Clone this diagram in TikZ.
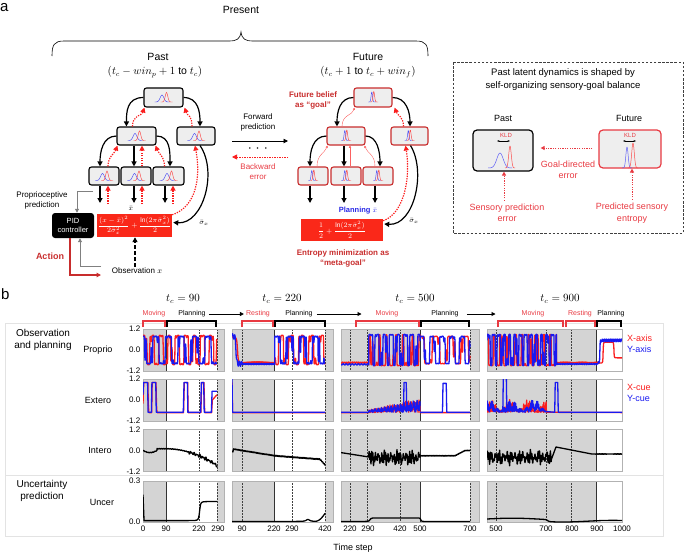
\documentclass[tikz,border=0pt]{standalone}
\usepackage{fontspec}
\setmainfont{Liberation Sans}
\usetikzlibrary{arrows.meta,calc}
\definecolor{rr}{RGB}{250,30,30}
\definecolor{dred}{RGB}{200,45,45}
\definecolor{lred}{RGB}{232,58,66}
\definecolor{bb}{RGB}{25,25,240}
\definecolor{pbl}{RGB}{40,40,230}
\definecolor{pg}{RGB}{212,212,212}
\definecolor{boxg}{RGB}{238,238,238}
\definecolor{lossred}{RGB}{250,40,25}

\newcommand\gpast[1]{\begin{scope}[shift={(#1.center)}]
 \draw[bb!80,line width=0.45pt] plot[domain=-9:6,samples=25,smooth] (\x,{4.5-7*exp(max(-9,0-((\x+1.5)/2.6)*((\x+1.5)/2.6)))});
 \draw[rr!85,line width=0.45pt] plot[domain=-3:9,samples=25,smooth] (\x,{4.5-9.5*exp(max(-9,0-((\x-3)/1.8)*((\x-3)/1.8)))});
\end{scope}}
\newcommand\gfut[1]{\begin{scope}[shift={(#1.center)}]
 \draw[bb!80,line width=0.45pt] plot[domain=-5:3,samples=25,smooth] (\x,{4.5-10*exp(max(-9,0-((\x+1.2)/1.0)*((\x+1.2)/1.0)))});
 \draw[rr!85,line width=0.45pt] plot[domain=-3:5,samples=25,smooth] (\x,{4.5-10.5*exp(max(-9,0-((\x-0.8)/1.1)*((\x-0.8)/1.1)))});
\end{scope}}

% panel backgrounds (in t,v coordinates)
\newcommand\bgA[2]{\fill[pg] (0,#1) rectangle (90,#2); \fill[pg] (290,#1) rectangle (317.6,#2);
 \draw[dotl] (220,#1) -- (220,#2) (290,#1) -- (290,#2); \draw[soll] (90,#1) -- (90,#2);
 \draw[frm] (0,#1) rectangle (317.6,#2); \clip (0,#1) rectangle (317.6,#2);}
\newcommand\bgB[2]{\fill[pg] (50.1,#1) rectangle (220,#2); \fill[pg] (420,#1) rectangle (451.7,#2);
 \draw[dotl] (90,#1) -- (90,#2) (290,#1) -- (290,#2) (420,#1) -- (420,#2); \draw[soll] (220,#1) -- (220,#2);
 \draw[frm] (50.1,#1) rectangle (451.7,#2); \clip (50.1,#1) rectangle (451.7,#2);}
\newcommand\bgC[2]{\fill[pg] (184,#1) rectangle (500,#2); \fill[pg] (700,#1) rectangle (736,#2);
 \draw[dotl] (220,#1) -- (220,#2) (290,#1) -- (290,#2) (420,#1) -- (420,#2) (700,#1) -- (700,#2); \draw[soll] (500,#1) -- (500,#2);
 \draw[frm] (184,#1) rectangle (736,#2); \clip (184,#1) rectangle (736,#2);}
\newcommand\bgD[2]{\fill[pg] (464.3,#1) rectangle (900,#2);
 \draw[dotl] (500,#1) -- (500,#2) (700,#1) -- (700,#2) (800,#1) -- (800,#2); \draw[soll] (900,#1) -- (900,#2);
 \draw[frm] (464.3,#1) rectangle (1000,#2); \clip (464.3,#1) rectangle (1000,#2);}

\begin{document}
\begin{tikzpicture}[x=1pt,y=-1pt,
  font=\fontsize{8}{9.5}\selectfont,
  declare function={sgg(\xa)=\xa/sqrt(\xa*\xa+0.15); sg(\xb)=sgg(max(-20,min(20,\xb)));
                    sgc(\xa)=\xa/sqrt(\xa*\xa+1); sig(\xb)=0.5+0.5*sgc(max(-20,min(20,\xb)));},
  pbox/.style={draw=black, line width=1.1pt, rounded corners=2.5pt, fill=boxg, inner sep=0pt},
  fbox/.style={draw=dred, line width=1.1pt, rounded corners=2.5pt, fill=boxg, inner sep=0pt},
  blk/.style={line width=1.2pt, -{Triangle[length=5pt,width=5pt]}},
  rdot/.style={line width=1.2pt, rr, dash pattern=on 1.3pt off 1.2pt, -{Triangle[length=5pt,width=5pt]}},
  rdots/.style={line width=0.9pt, lred, dash pattern=on 1.2pt off 1.2pt, -{Triangle[length=4pt,width=4pt]}},
  rthin/.style={line width=0.4pt, rr!70, -{Triangle[length=2.2pt,width=2.2pt]}},
  garr/.style={line width=1pt, gray, -{Triangle[length=4pt,width=4pt]}},
  lossbox/.style={fill=lossred, inner sep=0pt, text=white, font=\fontsize{6.6}{7.5}\selectfont},
  lbl/.style={inner sep=0pt, align=center},
  harr/.style={line width=0.9pt, -{Triangle[length=4pt,width=4pt]}},
  dotl/.style={densely dotted, black!75, line width=0.5pt},
  soll/.style={black!80, line width=0.7pt},
  frm/.style={gray!60, line width=0.6pt},
  dr/.style={rr, line width=1.3pt, line join=round},
  db/.style={bb, line width=1.3pt, line join=round},
  dk/.style={black, line width=1.3pt, line join=round},
  hd/.style={inner sep=0pt, font=\fontsize{7}{8}\selectfont},
  tk/.style={inner sep=0pt, font=\fontsize{8}{9}\selectfont},
]
\useasboundingbox (0,0) rectangle (685,554);

%================ part a ================
\node[font=\fontsize{15}{15}\selectfont, anchor=base west, inner sep=0pt] (lbla) at (0,12) {a};
\node[lbl, font=\fontsize{10.5}{12}\selectfont] (present) at (241,10) {Present};
\draw[line width=0.6pt] (52,56) .. controls (52,45) and (54,41) .. (64,41) -- (229,41)
  .. controls (237,41) and (240,39) .. (241,32) .. controls (242,39) and (245,41) .. (253,41)
  -- (416,41) .. controls (426,41) and (428,45) .. (428,56);
\node[lbl, font=\fontsize{10.5}{12}\selectfont] (pastH) at (158,57) {Past};
\node[lbl, font=\fontsize{10.5}{12}\selectfont] (pastR) at (155,72) {$(t_c - win_p + 1\ \mathrm{to}\ t_c)$};
\node[lbl, font=\fontsize{10.5}{12}\selectfont] (futH) at (368,57) {Future};
\node[lbl, font=\fontsize{10.5}{12}\selectfont] (futR) at (368,72) {$(t_c + 1\ \mathrm{to}\ t_c + win_f)$};

% past tree
\node[pbox, minimum width=39, minimum height=19] (PT) at (163.5,97.5) {};
\node[pbox, minimum width=39, minimum height=18] (PML) at (136.5,136) {};
\node[pbox, minimum width=38, minimum height=18] (PMR) at (196,136) {};
\node[pbox, minimum width=30, minimum height=18] (PB1) at (104,176) {};
\node[pbox, minimum width=30, minimum height=18] (PB2) at (136,176) {};
\node[pbox, minimum width=31, minimum height=18] (PB3) at (168.5,176) {};
\foreach \n in {PT,PML,PMR,PB1,PB2,PB3} {\gpast{\n}}

\node[lossbox, minimum width=75, minimum height=23] (PL) at (134.5,225.5)
  {$\displaystyle\frac{(x-\bar{x})^2}{2\bar{\sigma}_x^2}+\frac{\ln(2\pi\bar{\sigma}_x^2)}{2}$};
\node[lbl, font=\fontsize{7}{8}\selectfont] (xbarP) at (131,208.5) {$\bar{x}$};
\node[lbl, font=\fontsize{7}{8}\selectfont] (sigP) at (204,223) {$\bar{\sigma}_x$};

\draw[blk] (PT.west) .. controls +(-17,0) and +(0,-14) .. ($(PML.north west)+(10,0)$);
\draw[blk] (PT.east) .. controls +(15,0) and +(0,-14) .. ($(PMR.north)+(4,0)$);
\draw[blk] (PML.west) .. controls +(-14,0) and +(0,-14) .. ($(PB1.north)+(-4,0)$);
\draw[blk] ($(PML.south)+(-2.5,0)$) -- ($(PB2.north)+(-2,0)$);
\draw[blk] (PML.east) .. controls +(14,0) and +(0,-14) .. ($(PB3.north)+(1.5,0)$);
\draw[rdot] ($(PML.north)+(-4,0)$) .. controls +(0,-12) and +(-3,9) .. ($(PT.south west)+(1,0)$);
\draw[rdot] ($(PMR.north)+(-4,0)$) .. controls +(0,-12) and +(3,9) .. ($(PT.south east)+(1,0)$);
\draw[rdot] ($(PB1.north)+(4,0)$) .. controls +(0,-10) and +(-3,8) .. ($(PML.south west)+(1,0)$);
\draw[rdot] ($(PB2.north)+(6,0)$) -- ($(PML.south)+(5.5,0)$);
\draw[rdot] ($(PB3.north)+(-4,0)$) .. controls +(0,-10) and +(3,8) .. ($(PML.south east)+(-1,0)$);
\coordinate (pe1) at (100,203); \coordinate (pe2) at (134,203); \coordinate (pe3) at (165,203);
\coordinate (pr1) at (108,204); \coordinate (pr2) at (142,204); \coordinate (pr3) at (173,204);
\draw[blk] ($(PB1.south)+(-4,0)$) -- (pe1);
\draw[blk] ($(PB2.south)+(-2,0)$) -- (pe2);
\draw[blk] ($(PB3.south)+(-3.5,0)$) -- (pe3);
\draw[rdot] (pr1) -- ($(PB1.south)+(4,0)$);
\draw[rdot] (pr2) -- ($(PB2.south)+(6,0)$);
\draw[rdot] (pr3) -- ($(PB3.south)+(4.5,0)$);
\draw[rdot] ($(PL.north east)+(0,1)$) .. controls +(24,-8) and +(6,32) .. ($(PMR.south)+(-1,0)$);
\draw[blk] ($(PMR.south)+(4,0)$) .. controls +(18,26) and +(30,2) .. ($(PL.east)+(1,-3)$);

% PID and loop
\node[fill=black, text=white, rounded corners=3pt, minimum width=42, minimum height=25, inner sep=0pt,
      align=center, font=\fontsize{7.5}{8.5}\selectfont] (PID) at (73,225.5) {PID\\controller};
\node[lbl, font=\fontsize{8}{10}\selectfont] (pp) at (42,200) {Proprioceptive\\prediction};
\coordinate (gp) at (93,191);
\draw[garr] (gp) -| ($(PID.north)+(4,0)$);
\node[lbl, font=\bfseries\fontsize{9}{10}\selectfont, text=dred] (act) at (50,256) {Action};
\node[lbl, font=\fontsize{8}{9}\selectfont] (ob) at (137,271) {Observation $x$};
\coordinate (actend) at (101,275);
\coordinate (gfb) at (101,266);
\draw[line width=1.1pt, dred, -{Triangle[length=4.5pt,width=4.5pt]}] ($(PID.south)+(-3,0)$) |- (actend);
\draw[garr] (gfb) -| ($(PID.south)+(7,0)$);
\draw[line width=1.3pt, dash pattern=on 3.5pt off 2.5pt, -{Triangle[length=5pt,width=5pt]}] ($(ob.north)+(-2,-1)$) -- ($(PL.south)+(0.5,0)$);

% middle
\node[lbl, font=\fontsize{8}{10}\selectfont] (fp) at (258,122) {Forward\\prediction};
\coordinate (fwA) at (232,141); \coordinate (fwB) at (288,141);
\draw[line width=0.9pt, -{Triangle[length=4.5pt,width=4.5pt]}] (fwA) -- (fwB);
\node[lbl, font=\bfseries\fontsize{9}{9}\selectfont] (dots) at (258,150) {·\hspace{5pt}·\hspace{5pt}·};
\coordinate (bwA) at (288,157); \coordinate (bwB) at (232,157);
\draw[rdot, line width=0.9pt] (bwA) -- (bwB);
\node[lbl, font=\fontsize{8}{10}\selectfont, text=lred] (bw) at (258,172) {Backward\\error};

% future tree
\node[fbox, minimum width=38, minimum height=19] (FT) at (373,97.5) {};
\node[fbox, minimum width=38, minimum height=18] (FML) at (346,136) {};
\node[fbox, minimum width=37, minimum height=18] (FMR) at (409.5,136) {};
\node[fbox, minimum width=30, minimum height=18] (FB1) at (313,176) {};
\node[fbox, minimum width=30, minimum height=18] (FB2) at (346,176) {};
\node[fbox, minimum width=30, minimum height=18] (FB3) at (378,176) {};
\foreach \n in {FT,FML,FMR,FB1,FB2,FB3} {\gfut{\n}}

\node[lossbox, minimum width=82, minimum height=22] (FL) at (342,230)
  {$\displaystyle\frac{1}{2}+\frac{\ln(2\pi\bar{\sigma}_x^2)}{2}$};
\node[lbl, font=\bfseries\fontsize{7.5}{9}\selectfont, text=pbl] (plan) at (358,211) {Planning $\bar{x}$};
\node[lbl, font=\fontsize{7}{8}\selectfont] (sigF) at (414,221) {$\bar{\sigma}_x$};
\node[lbl, font=\bfseries\fontsize{8}{10.5}\selectfont, text=dred] (ent) at (343,258.5) {Entropy minimization as\\“meta-goal”};
\node[lbl, font=\bfseries\fontsize{8}{10}\selectfont, text=dred] (goal) at (313,100) {Future belief\\as “goal”};

\draw[blk] (FT.west) .. controls +(-14,0) and +(0,-14) .. ($(FML.north)+(-9,0)$);
\draw[blk] (FT.east) .. controls +(14,0) and +(0,-14) .. ($(FMR.north)+(0.5,0)$);
\draw[blk] (FML.west) .. controls +(-14,0) and +(0,-14) .. ($(FB1.north)+(-3,0)$);
\draw[blk] ($(FML.south)+(-2,0)$) -- ($(FB2.north)+(-2,0)$);
\draw[blk] (FML.east) .. controls +(12,0) and +(0,-14) .. ($(FB3.north)+(2,0)$);
\draw[rthin] ($(FML.north)+(-4,0)$) .. controls +(0,-12) and +(-2,8) .. ($(FT.south west)+(1,0)$);
\draw[rthin] ($(FB1.north)+(4,0)$) .. controls +(0,-12) and +(-3,8) .. ($(FML.south west)+(1,0)$);
\draw[rthin] ($(FB2.north)+(4,0)$) -- ($(FML.south)+(4,0)$);
\draw[rthin] ($(FB3.north)+(-3,0)$) .. controls +(0,-12) and +(3,8) .. ($(FML.south east)+(-1,0)$);
\draw[rdot] ($(FMR.north)+(-6,0)$) .. controls +(0,-10) and +(3,8) .. ($(FT.south east)+(2,0)$);
\coordinate (fe1) at (310,203); \coordinate (fe2) at (344,203); \coordinate (fe3) at (375,203);
\draw[blk] ($(FB1.south)+(-3,0)$) -- (fe1);
\draw[blk] ($(FB2.south)+(-2,0)$) -- (fe2);
\draw[blk] ($(FB3.south)+(-3,0)$) -- (fe3);
\draw[rdot] ($(FL.north east)+(0,2)$) .. controls +(22,-8) and +(5,30) .. ($(FMR.south)+(-4,0)$);
\draw[blk] ($(FMR.south)+(1,0)$) .. controls +(16,26) and +(30,2) .. ($(FL.east)+(1,-6)$);

% right dashed box
\draw[gray!50!black, line width=0.7pt, dash pattern=on 2.5pt off 1.6pt] (453,62) rectangle (683,233);
\node[lbl, font=\fontsize{9.5}{13}\selectfont] (rtitle) at (563,79.5) {Past latent dynamics is shaped by\\self-organizing sensory-goal balance};
\node[lbl, font=\fontsize{9}{10}\selectfont] (rpast) at (503,118) {Past};
\node[lbl, font=\fontsize{9}{10}\selectfont] (rfut) at (629,118) {Future};
\node[draw=black, line width=1.2pt, rounded corners=4pt, fill=boxg, minimum width=60, minimum height=41, inner sep=0pt] (RP) at (503,150.5) {};
\node[draw=lred, line width=1.2pt, rounded corners=4pt, fill=boxg, minimum width=62, minimum height=38, inner sep=0pt] (RF) at (630,149) {};
\begin{scope}[shift={(RP.center)}]
 \draw[bb!70,line width=0.5pt] plot[domain=-15:9,samples=40,smooth] (\x,{17.5-15*exp(max(-9,0-((\x+3)/4.5)*((\x+3)/4.5)))});
 \draw[rr!80,line width=0.5pt] plot[domain=2:12,samples=30,smooth] (\x,{17.5-22*exp(max(-9,0-((\x-7)/1.8)*((\x-7)/1.8)))});
\end{scope}
\begin{scope}[shift={(RF.center)}]
 \draw[bb!70,line width=0.5pt] plot[domain=-8:2,samples=30,smooth] (\x,{19-21*exp(max(-9,0-((\x+3)/1.6)*((\x+3)/1.6)))});
 \draw[rr!80,line width=0.5pt] plot[domain=-2:8,samples=30,smooth] (\x,{19-25*exp(max(-9,0-((\x-3)/1.8)*((\x-3)/1.8)))});
\end{scope}
\node[lbl, font=\fontsize{6}{7}\selectfont, text=lred] (kld1) at (506,135) {KLD};
\node[lbl, font=\fontsize{6}{7}\selectfont, text=lred] (kld2) at (630,135) {KLD};
\draw[line width=0.6pt, {Stealth[length=2.5pt]}-{Stealth[length=2.5pt]}] ($(kld1.center)+(-9,6)$) -- ($(kld1.center)+(4,6)$);
\draw[line width=0.6pt, {Stealth[length=2.5pt]}-{Stealth[length=2.5pt]}] ($(kld2.center)+(-7,6)$) -- ($(kld2.center)+(6,6)$);
\draw[rdots] ($(RF.west)+(-6,-1)$) -- ($(RP.east)+(7,-2.5)$);
\node[lbl, font=\fontsize{9}{11.5}\selectfont, text=lred] (gde) at (568,170) {Goal-directed\\error};
\node[lbl, font=\fontsize{9}{11.5}\selectfont, text=lred] (spe) at (507,213) {Sensory prediction\\error};
\node[lbl, font=\fontsize{9}{11.5}\selectfont, text=lred] (pse) at (632,213) {Predicted sensory\\entropy};
\draw[rdots] ($(spe.north)+(-3,-3)$) -- ($(RP.south)+(1,0)$);
\draw[rdots] ($(pse.north)+(0,-3)$) -- ($(RF.south)+(2,0)$);

%================ part b ================
\node[font=\fontsize{15}{15}\selectfont, anchor=base west, inner sep=0pt] (lblb) at (1,299) {b};
\draw[gray!22, line width=0.8pt] (5,323) rectangle (663,536);
\draw[gray!22, line width=0.8pt] (5,475) -- (663,475);
\node[lbl, font=\fontsize{10}{12}\selectfont] (gobs) at (43,340) {Observation\\and planning};
\node[lbl, font=\fontsize{10}{12}\selectfont] (gunc) at (42,490.5) {Uncertainty\\prediction};
\node[lbl, font=\fontsize{9}{10}\selectfont] (rP) at (98,350) {Proprio};
\node[lbl, font=\fontsize{9}{10}\selectfont] (rE) at (98,400) {Extero};
\node[lbl, font=\fontsize{9}{10}\selectfont] (rI) at (100,450) {Intero};
\node[lbl, font=\fontsize{9}{10}\selectfont] (rU) at (102,502) {Uncer};

% headers
\node[lbl, font=\fontsize{10.5}{12}\selectfont] (tc1) at (183,299) {$t_c = 90$};
\node[lbl, font=\fontsize{10.5}{12}\selectfont] (tc2) at (282,299) {$t_c = 220$};
\node[lbl, font=\fontsize{10.5}{12}\selectfont] (tc3) at (415,299) {$t_c = 500$};
\node[lbl, font=\fontsize{10.5}{12}\selectfont] (tc4) at (560,299) {$t_c = 900$};
\node[hd, text=lred] (mov1) at (154,314) {Moving};
\node[hd] (pl1) at (192,314) {Planning};
\node[hd, text=lred] (rest2) at (258,314) {Resting};
\node[hd] (pl2) at (299,314) {Planning};
\node[hd, text=lred] (mov3) at (387,314) {Moving};
\node[hd] (pl3) at (445,314) {Planning};
\node[hd, text=lred] (mov4) at (533,314) {Moving};
\node[hd, text=lred] (rest4) at (580,314) {Resting};
\node[hd] (pl4) at (611,314) {Planning};
\draw[harr] ($(pl1.east)+(3,0)$) -- ($(rest2.west)+(-2,0)$);
\draw[harr] ($(pl2.east)+(4,0)$) -- ($(mov3.west)+(-14,0)$);
\draw[harr] ($(pl3.east)+(8,0)$) -- ($(mov4.west)+(-26,0)$);
\foreach \a/\b in {143/165, 242/273, 356/419, 498/563, 566/595}
  {\draw[lred, line width=1.1pt] (\a,327) -- (\a,321) -- (\b,321) -- (\b,327);}
\foreach \a/\b in {167/216, 275/325, 421/469, 597/621}
  {\draw[black, line width=1.1pt] (\a,327) -- (\a,321) -- (\b,321) -- (\b,327);}

% legends
\node[anchor=west, inner sep=0pt, font=\fontsize{9}{10}\selectfont, text=rr] (lgx) at (627,338) {X-axis};
\node[anchor=west, inner sep=0pt, font=\fontsize{9}{10}\selectfont, text=bb] (lgy) at (627,349) {Y-axis};
\node[anchor=west, inner sep=0pt, font=\fontsize{9}{10}\selectfont, text=rr] (lgxc) at (627,387) {X-cue};
\node[anchor=west, inner sep=0pt, font=\fontsize{9}{10}\selectfont, text=bb] (lgyc) at (627,398) {Y-cue};

% y ticks
\foreach \yy/\t in {329/1.2, 350/0.0, 371/-1.2, 379/1.2, 400/0.0, 421/-1.2, 429.5/1.2, 450.5/0.0, 471.5/-1.2, 481/0.3, 522/0.0}
  {\node[tk, anchor=east] at (140.5,\yy) {\t};}
% x ticks
\foreach \xx/\t in {143/0, 166/90, 199/220, 218/290, 242/90, 274/220, 292/290, 325/420,
  350/220, 368/290, 400/420, 420/500, 470/700, 496/500, 546/700, 572/800, 597/900, 622/1000}
  {\node[tk] at (\xx,529) {\t};}
\node[lbl, font=\fontsize{9}{10}\selectfont] (ts) at (353,548) {Time step};

%---------- column 1 ----------
\begin{scope}[shift={(143,350)}, xscale=0.255, yscale=-17.5]
 \bgA{-1.2}{1.2}
 \draw[dr] plot[domain=0:290,samples=220] (\x,{0.85*sg(2*sin(\x*11+40)+1.2*sin(\x*29+10))});
 \draw[db] plot[domain=0:290,samples=220] (\x,{0.8*sg(2*sin(\x*7+110)+1.0*sin(\x*37))});
\end{scope}
\begin{scope}[shift={(143,400)}, xscale=0.255, yscale=-17.5]
 \bgA{-1.2}{1.2}
 \draw[dr] (0,-0.2) -- (3,1) -- (19,1) -- (21,-0.3) -- (23,-0.72) -- (34,-0.72) -- (36,1) -- (51,1) -- (53,-0.3) -- (55,-0.72) -- (159,-0.72) -- (162,1) -- (175,1) -- (177,-0.72) -- (227,-0.72) -- (230,1) -- (239,1) -- (242,-0.72) -- (269,-0.72) -- (272,0.0) -- (290,0.3);
 \draw[db] (0,0.3) -- (2,1) -- (18,1) -- (20,-0.7) -- (33,-0.7) -- (35,1) -- (50,1) -- (52,-0.7) -- (158,-0.7) -- (161,1) -- (174,1) -- (176,-0.7) -- (226,-0.7) -- (229,1) -- (238,1) -- (240,-0.7) -- (268,-0.7) -- (271,0.5) -- (290,0.5);
\end{scope}
\begin{scope}[shift={(143,450.5)}, xscale=0.255, yscale=-17.5]
 \bgA{-1.2}{1.2}
 \draw[dk] plot[domain=0:55,samples=30] (\x,{-0.12*sin(\x*3.3)+0.015*sin(\x*41)})
   -- plot[domain=55:290,samples=170] (\x,{0.1-0.95*(max(0,\x-90)/200)*(max(0,\x-90)/200)+(0.05*sin(\x*31)+0.05*sin(\x*47+20))*(\x>180)+0.015*sin(\x*41)});
\end{scope}
\begin{scope}[shift={(143,522)}, xscale=0.255, yscale=-136.7]
 \bgA{0}{0.3}
 \draw[dk] (0,0.2) -- plot[domain=4:290,samples=120] (\x,{0.01+0.14*sig((\x-222)/4)});
\end{scope}

%---------- column 2 ----------
\begin{scope}[shift={(219.4,350)}, xscale=0.2515, yscale=-17.5]
 \bgB{-1.2}{1.2}
 \draw[dr] plot[domain=50:90,samples=30] (\x,{0.75*sg((72-\x)/8)})
   -- plot[domain=90:220,samples=70] (\x,{-0.72+0.05*sin((\x-90)*97)})
   -- plot[domain=220:420,samples=170] (\x,{0.85*sg(2*sin((\x-220)*9+200)+1.2*sin((\x-220)*27))});
 \draw[db] plot[domain=50:90,samples=30] (\x,{0.8*sg((66-\x)/6)+0.15*sin((\x-50)*40)})
   -- plot[domain=90:220,samples=70] (\x,{-0.8+0.04*sin((\x-90)*113)})
   -- plot[domain=220:420,samples=170] (\x,{0.8*sg(2*sin((\x-220)*7+30)+1.1*sin((\x-220)*41))});
\end{scope}
\begin{scope}[shift={(219.4,400)}, xscale=0.2515, yscale=-17.5]
 \bgB{-1.2}{1.2}
 \draw[dr] (50.1,1.0) -- (52.5,-0.72) -- (420,-0.72);
 \draw[db] (50.1,1.25) -- (52,-0.7) -- (420,-0.7);
\end{scope}
\begin{scope}[shift={(219.4,450.5)}, xscale=0.2515, yscale=-17.5]
 \bgB{-1.2}{1.2}
 \draw[dk] plot[domain=50:220,samples=90] (\x,{0.08-0.38*(\x-55)/165+0.025*sin((\x-50)*61)-0.15*(\x<54)})
   -- plot[domain=220:420,samples=110] (\x,{-0.3-0.2*(\x-220)/180-0.3*max(0,\x-400)/20+0.03*sin((\x-220)*61)});
\end{scope}
\begin{scope}[shift={(219.4,522)}, xscale=0.2515, yscale=-136.7]
 \bgB{0}{0.3}
 \draw[dk] plot[domain=50:420,samples=150] (\x,{0.004+0.015/(1+((\x-352)/8)*((\x-352)/8))+0.06*(max(0,\x-380)/40)*(max(0,\x-380)/40)});
\end{scope}

%---------- column 3 ----------
\begin{scope}[shift={(295,350)}, xscale=0.25, yscale=-17.5]
 \bgC{-1.2}{1.2}
 \draw[dr] plot[domain=184:295,samples=45] (\x,{-0.72+0.04*sin((\x-184)*97)})
   -- plot[domain=295:500,samples=200] (\x,{0.9*sg(1.6*sin((\x-295)*11)-1.2+1.4*sin((\x-295)*27))})
   -- plot[domain=500:700,samples=170] (\x,{0.8*sg(2*sin((\x-500)*6+80)+0.8*sin((\x-500)*29))});
 \draw[db] plot[domain=184:295,samples=45] (\x,{-0.82+0.04*sin((\x-184)*113)})
   -- plot[domain=295:500,samples=200] (\x,{0.9*sg(2*sin((\x-295)*13)+1.4*sin((\x-295)*31)+0.5)})
   -- plot[domain=500:700,samples=170] (\x,{0.8*sg(2*sin((\x-500)*9+10)+0.8*sin((\x-500)*37))});
\end{scope}
\begin{scope}[shift={(295,400)}, xscale=0.25, yscale=-17.5]
 \bgC{-1.2}{1.2}
 \draw[dr] (184,-0.72) -- (295,-0.72)
   -- plot[domain=295:500,samples=160] (\x,{-0.72+(0.1+0.42*(\x-295)/205)*abs(sin((\x-295)*71)+0.6*sin((\x-295)*37))})
   -- (500,-0.72) -- (700,-0.72);
 \draw[db] (184,-0.7) -- (295,-0.7)
   -- plot[domain=295:500,samples=160] (\x,{-0.7+(0.08+0.4*(\x-295)/205)*abs(sin((\x-295)*59+20)+0.6*sin((\x-295)*31))});
 \draw[db] (434,-0.7) -- (436,1.0) -- (445,1.0) -- (447,-0.7);
 \draw[db] (500,-0.7) -- (590,-0.7) -- (592,0.95) -- (605,0.95) -- (607,-0.7) -- (700,-0.7);
\end{scope}
\begin{scope}[shift={(295,450.5)}, xscale=0.25, yscale=-17.5]
 \bgC{-1.2}{1.2}
 \draw[dk] plot[domain=184:295,samples=40] (\x,{-0.12-0.25*(\x-184)/111})
   -- plot[domain=295:500,samples=230] (\x,{-0.42+(0.2+0.1*sin((\x-295)*7))*sin((\x-295)*71)+0.15*sin((\x-295)*29+40)+0.08*sin((\x-295)*13)})
   -- plot[domain=500:700,samples=100] (\x,{-0.3+0.3*min(1,max(0,\x-640)/40)+0.02*sin((\x-500)*61)});
\end{scope}
\begin{scope}[shift={(295,522)}, xscale=0.25, yscale=-136.7]
 \bgC{0}{0.3}
 \draw[dk] plot[domain=184:700,samples=160] (\x,{0.004+0.026*sig((\x-300)/5)-0.026*sig((\x-503)/3)});
\end{scope}

%---------- column 4 ----------
\begin{scope}[shift={(370,350)}, xscale=0.252, yscale=-17.5]
 \bgD{-1.2}{1.2}
 \draw[dr] plot[domain=464:740,samples=270] (\x,{0.9*sg(1.8*sin((\x-464)*13+60)+1.5*sin((\x-464)*29)-0.7)})
   -- plot[domain=740:905,samples=60] (\x,{-0.72+0.04*sin((\x-740)*67)})
   -- plot[domain=905:1000,samples=80] (\x,{-0.15+0.6*sg((\x-925)/3)-0.45*(1+sg((\x-968)/3))});
 \draw[db] plot[domain=464:740,samples=270] (\x,{0.9*sg(2*sin((\x-464)*17)+1.4*sin((\x-464)*37)+0.3)})
   -- plot[domain=740:905,samples=60] (\x,{-0.8+0.04*sin((\x-740)*83)})
   -- plot[domain=905:1000,samples=80] (\x,{-0.1+0.65*sg((\x-912)/3)+0.08*sin((\x-905)*47)});
\end{scope}
\begin{scope}[shift={(370,400)}, xscale=0.252, yscale=-17.5]
 \bgD{-1.2}{1.2}
 \draw[dr] plot[domain=464:700,samples=200] (\x,{-0.72+0.5*abs(sin((\x-464)*61)+0.5*sin((\x-464)*29))*(0.6+0.4*sin((\x-464)*5))}) -- (1000,-0.72);
 \draw[db] plot[domain=464:700,samples=200] (\x,{-0.7+0.5*abs(sin((\x-464)*53+30)+0.5*sin((\x-464)*37))*(0.6+0.4*sin((\x-464)*4+60))})
   -- (733,-0.7) -- (735,1.0) -- (745,1.0) -- (747,-0.7) -- (1000,-0.7);
 \draw[db] (527,-0.7) -- (529,1.3) -- (541,1.3) -- (543,-0.7);
\end{scope}
\begin{scope}[shift={(370,450.5)}, xscale=0.252, yscale=-17.5]
 \bgD{-1.2}{1.2}
 \draw[dk] plot[domain=464:720,samples=240] (\x,{-0.4+(0.2+0.1*sin((\x-464)*9))*sin((\x-464)*59)+0.15*sin((\x-464)*23+40)+0.06*sin((\x-464)*11)})
   -- (738,0.2) -- (880,-0.2)
   -- plot[domain=880:1000,samples=40] (\x,{-0.2+0.015*sin((\x-880)*61)});
\end{scope}
\begin{scope}[shift={(370,522)}, xscale=0.252, yscale=-136.7]
 \bgD{0}{0.3}
 \draw[dk] plot[domain=464:1000,samples=160] (\x,{0.022+0.006*sin((\x-464)*0.9)-0.016*sig((\x-705)/6)});
\end{scope}

\end{tikzpicture}
\end{document}
